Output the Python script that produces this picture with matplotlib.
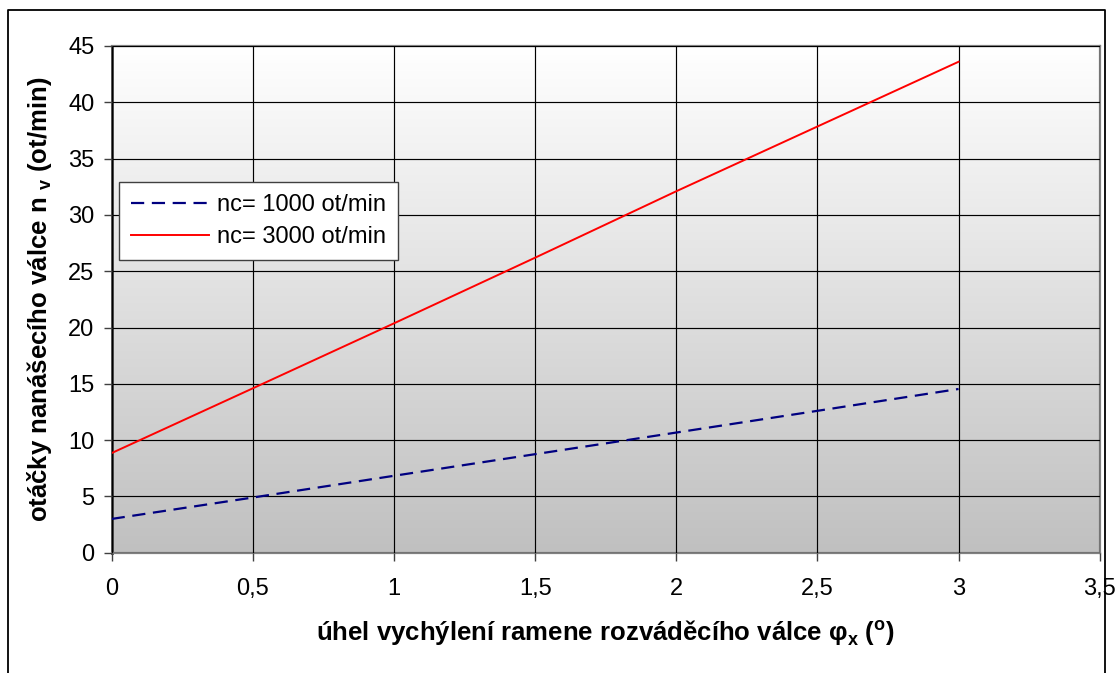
import numpy as np
import matplotlib
matplotlib.use("Agg")
import matplotlib.pyplot as plt
from matplotlib.lines import Line2D
from matplotlib.ticker import FuncFormatter, MultipleLocator

plt.rcParams["font.family"] = ["Liberation Sans", "DejaVu Sans"]
plt.rcParams["mathtext.fontset"] = "custom"
plt.rcParams["mathtext.rm"] = "Liberation Sans"
plt.rcParams["mathtext.bf"] = "Liberation Sans:bold"
plt.rcParams["lines.scale_dashes"] = False

# deflection angle of the distributor arm (deg)
phi_x = [0, 0.5, 1, 1.5, 2, 2.5, 3]
# speed of the applicator roll for two cylinder speeds (rpm)
n_v_1000 = [3.0, 4.9, 6.83, 8.75, 10.67, 12.6, 14.54]
n_v_3000 = [8.85, 14.6, 20.37, 26.2, 32.1, 37.85, 43.6]
series_labels = ["nc= 1000 ot/min", "nc= 3000 ot/min"]

x_label = r"úhel vychýlení ramene rozváděcího válce φ$_\mathbf{x}$ ($^\mathbf{o}$)"
y_label = r"otáčky nanášecího válce n $_\mathbf{v}$ (ot/min)"

W, H = 1120, 673
fig = plt.figure(figsize=(W / 100, H / 100), dpi=100)
fig.patch.set_facecolor("white")

left, right, top, bottom = 111.7, 1099.7, 46.0, 552.7
ax = fig.add_axes([left / W, 1 - bottom / H, (right - left) / W, (bottom - top) / H])

ax.set_xlim(0, 3.5)
ax.set_ylim(0, 45)

# vertical white-to-grey gradient behind the data
grad = np.linspace(0, 1, 256).reshape(-1, 1)
ax.imshow(grad, extent=[0, 3.5, 0, 45], aspect="auto", origin="lower",
          cmap=matplotlib.colors.LinearSegmentedColormap.from_list(
              "bg", ["#c0c0c0", "#ffffff"]), zorder=0)

ax.xaxis.set_major_locator(MultipleLocator(0.5))
ax.yaxis.set_major_locator(MultipleLocator(5))
fmt = FuncFormatter(lambda v, p: ("%g" % v).replace(".", ","))
ax.xaxis.set_major_formatter(fmt)
ax.yaxis.set_major_formatter(fmt)

ax.grid(True, color="black", linewidth=0.85, zorder=1)
ax.set_axisbelow(False)

ax.plot(phi_x, n_v_1000, color="#000080", linewidth=1.6,
        linestyle=(0, (9.5, 5.5)), label=series_labels[0], zorder=3)
ax.plot(phi_x, n_v_3000, color="#ff0000", linewidth=1.4,
        label=series_labels[1], zorder=3)

for side in ["top", "right", "bottom"]:
    ax.spines[side].set_color("#808080")
    ax.spines[side].set_linewidth(1.6)
ax.spines["left"].set_color("#404040")
ax.spines["left"].set_linewidth(2.0)

ax.tick_params(axis="both", direction="out", length=5.5, width=1.0,
               color="#404040", labelsize=17, labelcolor="black")
ax.tick_params(axis="x", pad=13)
ax.tick_params(axis="y", pad=7)

ax.set_xlabel(x_label, fontsize=18.5, fontweight="bold", labelpad=13)
ax.set_ylabel(y_label, fontsize=18.5, fontweight="bold", labelpad=10)

leg = ax.legend(loc="upper left", bbox_to_anchor=(7.5 / (right - left), 1 - (182 - top) / (bottom - top)),
                borderaxespad=0, frameon=True, fancybox=False, fontsize=17,
                handlelength=3.3, handletextpad=0.35, borderpad=0.5,
                labelspacing=0.45)
leg.get_frame().set_edgecolor("#404040")
leg.get_frame().set_linewidth(1.0)
leg.get_frame().set_facecolor("white")
leg.get_frame().set_alpha(1)

# outer frame around the chart
fx0, fx1, fy0 = 7.5 / W, 1105 / W, 1 - 10 / H
fig.add_artist(Line2D([fx0, fx0, fx1, fx1], [0, fy0, fy0, 0],
                      transform=fig.transFigure, color="black", linewidth=1.3))

fig.savefig("out.png", dpi=100)
